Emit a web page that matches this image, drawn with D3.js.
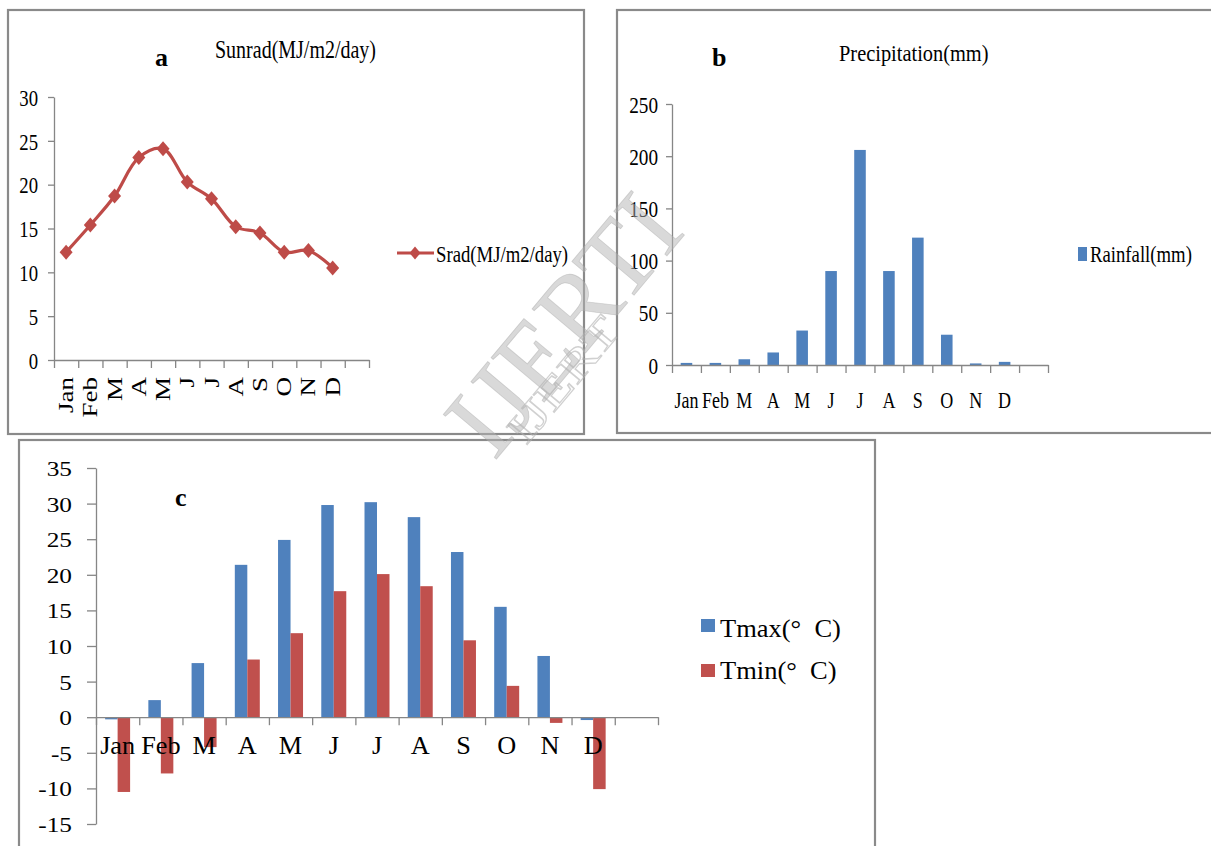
<!DOCTYPE html>
<html>
<head>
<meta charset="utf-8">
<script src="https://cdn.jsdelivr.net/npm/d3@7"></script>
<style>
  body { margin: 0; background: #fff; }
  svg { display: block; }
  text { font-family: "Liberation Serif", "Times New Roman", serif; fill: #000; white-space: pre; }
</style>
</head>
<body>
<svg id="chart" width="1211" height="846"></svg>
<script>
// month labels, 12 months plus one empty slot on each x axis
const months = ["Jan", "Feb", "M", "A", "M", "J", "J", "A", "S", "O", "N", "D"];
const srad = [12.3, 15.4, 18.7, 23.1, 24.1, 20.3, 18.4, 15.2, 14.5, 12.3, 12.5, 10.5];
const rain = [2, 2, 5.5, 12, 33, 90, 206, 90, 122, 29, 1.5, 3];
const tmax = [-0.3, 2.4, 7.6, 21.4, 24.9, 29.8, 30.2, 28.1, 23.2, 15.5, 8.6, -0.4];
const tmin = [-10.5, -7.9, -4.2, 8.1, 11.8, 17.7, 20.1, 18.4, 10.8, 4.4, -0.8, -10.1];
const ticksA = [0, 5, 10, 15, 20, 25, 30];
const ticksB = [0, 50, 100, 150, 200, 250];
const ticksC = [-15, -10, -5, 0, 5, 10, 15, 20, 25, 30, 35];

const BLUE = "#4f81bd", RED = "#c0504d", AXIS = "#868686", FRAME = "#8a8a8a";
const SERIF = '"Liberation Serif", "Times New Roman", serif';
const nSlots = 13;

const svg = d3.select("#chart");
svg.append("rect").attr("width", 1211).attr("height", 846).attr("fill", "#fff");

// text helper: the picture is squeezed sideways a bit, so scale glyphs
function label(g, x, y, s, o = {}) {
  let tr = `translate(${x},${y}) scale(${o.sx || 1},1)`;
  if (o.rot) tr += ` rotate(${o.rot})`;
  return g.append("text")
    .attr("transform", tr)
    .attr("text-anchor", o.anchor || "start")
    .style("font-family", SERIF)
    .style("font-size", (o.size || 24) + "px")
    .style("font-weight", o.bold ? "bold" : null)
    .text(s);
}

function frame(x, y, w, h) {
  svg.append("rect").attr("x", x).attr("y", y).attr("width", w).attr("height", h)
    .attr("fill", "none").attr("stroke", FRAME).attr("stroke-width", 2.2);
}

function yAxis(g, y, x0, ticks, o) {
  const ax = g.append("g").attr("transform", `translate(${x0},0)`)
    .call(d3.axisLeft(y).tickValues(ticks).tickFormat(d => String(d)).tickSize(o.tick).tickSizeOuter(0));
  ax.attr("font-family", null).attr("font-size", null);
  ax.selectAll("path, line").attr("stroke", AXIS).attr("stroke-width", 1.3);
  ax.selectAll("text")
    .attr("x", -o.pad / o.sx).attr("dy", "0.34em")
    .attr("transform", `scale(${o.sx},1)`)
    .style("font-family", SERIF)
    .style("font-size", o.size + "px");
}

function xAxis(g, range, yPos, tick) {
  const xl = d3.scaleLinear([0, nSlots], range);
  const ax = g.append("g").attr("transform", `translate(0,${yPos})`)
    .call(d3.axisBottom(xl).tickValues(d3.range(nSlots + 1)).tickFormat("").tickSize(tick).tickSizeOuter(0));
  ax.selectAll("path, line").attr("stroke", AXIS).attr("stroke-width", 1.3);
}

// frames
frame(8, 10, 576, 424);
frame(617, 10, 600, 423);
frame(19, 440, 856, 420);

// ---------- panel a: solar radiation ----------
const ga = svg.append("g");
const xa = d3.scaleBand(d3.range(nSlots), [54, 369]);
const ya = d3.scaleLinear([0, 30], [360, 97]);
yAxis(ga, ya, 54, ticksA, { tick: 6, pad: 16, sx: 0.78, size: 24 });
xAxis(ga, [54, 369], ya(0), 8);

months.forEach((m, i) => {
  label(ga, xa(i) + xa.bandwidth() / 2 + 7, 377, m, { sx: 0.78, rot: -90, anchor: "end", size: 27 });
});

const line = d3.line()
  .x((d, i) => xa(i) + xa.bandwidth() / 2)
  .y(d => ya(d))
  .curve(d3.curveCatmullRom.alpha(0.5));
ga.append("path").datum(srad).attr("d", line)
  .attr("fill", "none").attr("stroke", "#be4b48").attr("stroke-width", 3.2);

const diamond = "M0,-7.5L6.5,0L0,7.5L-6.5,0Z";
ga.selectAll("path.mk").data(srad).join("path").attr("class", "mk")
  .attr("d", diamond)
  .attr("transform", (d, i) => `translate(${xa(i) + xa.bandwidth() / 2},${ya(d)})`)
  .attr("fill", "#be4b48");

label(ga, 155, 66, "a", { bold: true, size: 26 });
label(ga, 215, 58, "Sunrad(MJ/m2/day)", { sx: 0.8, size: 25 });

// legend a
ga.append("line").attr("x1", 397).attr("x2", 434).attr("y1", 253).attr("y2", 253)
  .attr("stroke", "#be4b48").attr("stroke-width", 3.2);
ga.append("path").attr("d", "M0,-6.5L5.5,0L0,6.5L-5.5,0Z")
  .attr("transform", "translate(415,253)").attr("fill", "#be4b48");
label(ga, 436, 262, "Srad(MJ/m2/day)", { sx: 0.78, size: 24 });

// ---------- panel b: precipitation ----------
const gb = svg.append("g");
const xb = d3.scaleBand(d3.range(nSlots), [672, 1048]).paddingInner(0.6).paddingOuter(0.3);
const xbc = d3.scaleBand(d3.range(nSlots), [672, 1048]);
const yb = d3.scaleLinear([0, 250], [365, 104]);
yAxis(gb, yb, 672, ticksB, { tick: 6, pad: 14, sx: 0.8, size: 24 });

gb.selectAll("rect.bar").data(rain).join("rect").attr("class", "bar")
  .attr("x", (d, i) => xb(i)).attr("width", xb.bandwidth())
  .attr("y", d => yb(d)).attr("height", d => yb(0) - yb(d))
  .attr("fill", BLUE);
xAxis(gb, [672, 1048], yb(0), 8);

months.forEach((m, i) => {
  label(gb, xbc(i) + xbc.bandwidth() / 2, 408, m, { sx: 0.75, anchor: "middle", size: 24 });
});

label(gb, 712, 66, "b", { bold: true, size: 26 });
label(gb, 839, 61, "Precipitation(mm)", { sx: 0.85, size: 24 });

gb.append("rect").attr("x", 1078).attr("y", 247).attr("width", 9).attr("height", 14).attr("fill", BLUE);
label(gb, 1090, 262, "Rainfall(mm)", { sx: 0.78, size: 24 });

// ---------- panel c: temperature ----------
const gc = svg.append("g");
const xc = d3.scaleBand(d3.range(nSlots), [96, 658]);
const xs = d3.scaleBand(["tmax", "tmin"], [0, xc.bandwidth()]).paddingInner(0).paddingOuter(0.73);
const yc = d3.scaleLinear([-15, 35], [824, 468]);
yAxis(gc, yc, 96, ticksC, { tick: 9, pad: 24, sx: 1.15, size: 22 });

const series = [{ key: "tmax", vals: tmax, color: BLUE }, { key: "tmin", vals: tmin, color: RED }];
series.forEach(s => {
  gc.selectAll(`rect.${s.key}`).data(s.vals).join("rect").attr("class", s.key)
    .attr("x", (d, i) => xc(i) + xs(s.key)).attr("width", xs.bandwidth())
    .attr("y", d => yc(Math.max(0, d)))
    .attr("height", d => Math.abs(yc(d) - yc(0)))
    .attr("fill", s.color);
});
xAxis(gc, [96, 658], yc(0), 8);

months.forEach((m, i) => {
  label(gc, xc(i) + xc.bandwidth() / 2, 754, m, { anchor: "middle", size: 25, sx: 1.05 });
});

label(gc, 175, 506, "c", { bold: true, size: 26 });

gc.append("rect").attr("x", 701).attr("y", 619).attr("width", 14).attr("height", 13).attr("fill", BLUE);
label(gc, 720, 637, "Tmax(°  C)", { size: 25, sx: 1.06 });
gc.append("rect").attr("x", 701).attr("y", 664).attr("width", 14).attr("height", 13).attr("fill", RED);
label(gc, 720, 679, "Tmin(°  C)", { size: 25, sx: 1.06 });

// ---------- watermark (css sets text fill, so use style here) ----------
const wm = svg.append("g");
wm.append("text")
  .attr("transform", "translate(494,462) rotate(-50)")
  .attr("textLength", 300).attr("lengthAdjust", "spacingAndGlyphs")
  .style("font-family", SERIF).style("font-size", "106px")
  .style("fill", "#b4b4b4").style("fill-opacity", 0.5)
  .style("stroke", "#a8a8a8").style("stroke-opacity", 0.45).style("stroke-width", 0.8)
  .text("IJERTI");
wm.append("text")
  .attr("transform", "translate(526,446) rotate(-50)")
  .attr("textLength", 150).attr("lengthAdjust", "spacingAndGlyphs")
  .style("font-family", SERIF).style("font-size", "42px")
  .style("fill", "none").style("stroke", "#b0b0b0").style("stroke-opacity", 0.6).style("stroke-width", 1.2)
  .text("IJERT");
</script>
</body>
</html>
